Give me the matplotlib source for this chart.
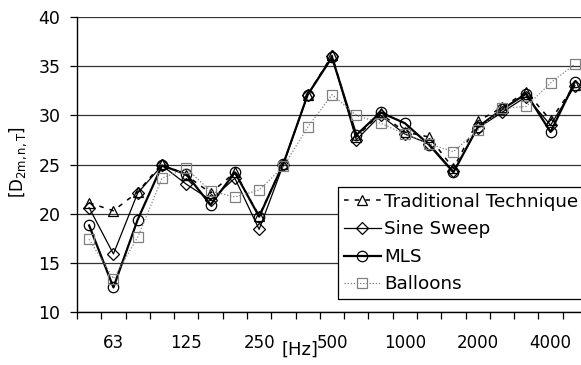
import matplotlib
matplotlib.use("Agg")
from matplotlib import pyplot as plt
import numpy as np

plt.rcParams['font.family'] = ['DejaVu Sans']
plt.rcParams['mathtext.fontset'] = 'dejavusans'

# third-octave bands, 50 Hz .. 5000 Hz
bands = [50, 63, 80, 100, 125, 160, 200, 250, 315, 400, 500, 630, 800,
         1000, 1250, 1600, 2000, 2500, 3150, 4000, 5000]
tick_labels = ['63', '125', '250', '500', '1000', '2000', '4000']

traditional = [21.1, 20.3, 22.2, 25.1, 23.9, 22.1, 24.2, 19.8, 25.1, 32.1, 36.1,
               27.8, 30.2, 28.3, 27.8, 24.6, 29.4, 30.8, 32.4, 29.5, 33.1]
sine_sweep = [20.6, 15.9, 22.1, 24.9, 23.0, 21.4, 23.6, 18.4, 25.0, 32.1, 36.0,
              27.5, 30.0, 28.1, 27.1, 24.3, 28.7, 30.3, 31.9, 29.0, 33.0]
mls = [18.8, 12.5, 19.4, 24.9, 24.0, 20.9, 24.2, 19.7, 25.1, 32.1, 35.9,
       28.0, 30.3, 29.2, 27.0, 24.2, 28.8, 30.6, 32.2, 28.3, 33.4]
balloons = [17.4, 13.4, 17.6, 23.6, 24.6, 22.3, 21.7, 22.4, 24.8, 28.8, 32.1,
            30.0, 29.2, 28.1, 27.1, 26.3, 28.5, 30.7, 30.9, 33.3, 35.2]

fig = plt.figure(figsize=(5.81, 3.65), dpi=100)
ax = fig.add_axes([77 / 581, 1 - 312 / 365, 510 / 581, 295 / 365])

x = np.arange(len(bands))
mk = dict(markersize=7.5, fillstyle='none', markeredgewidth=0.9)
ax.plot(x, traditional, color='black', lw=1.1, dashes=(3, 4), marker='^',
        label='Traditional Technique', **mk)
ax.plot(x, sine_sweep, color='black', lw=0.9, marker='D',
        label='Sine Sweep', **dict(mk, markersize=6.5))
ax.plot(x, mls, color='black', lw=1.6, marker='o', label='MLS', **mk)
ax.plot(x, balloons, color='#808080', lw=0.9, ls=(0, (1, 1.5)), marker='s',
        label='Balloons', **mk)

ax.set_xlim(-0.5, len(bands) - 0.5)
ax.set_ylim(10, 40)
ax.set_yticks(range(10, 41, 5))
ax.yaxis.grid(True, color='#333333', lw=0.9)
ax.set_axisbelow(True)

label_pos = [bands.index(int(t)) for t in tick_labels]
ax.set_xticks(label_pos)
ax.set_xticklabels(tick_labels)
ax.set_xticks(np.arange(-0.5, len(bands)), minor=True)
ax.tick_params(axis='x', which='major', length=0, pad=16, labelsize=12)
ax.tick_params(axis='x', which='minor', length=5, width=0.9)
ax.tick_params(axis='y', length=5, width=0.9, labelsize=12.5, pad=7)

for s in ['top', 'right']:
    ax.spines[s].set_visible(False)
ax.spines['left'].set_linewidth(1.0)
ax.spines['bottom'].set_linewidth(1.0)

fig.text(18 / 581, 1 - 162 / 365, r'[D$_{\mathrm{2m,n,T}}$]', rotation=90,
         ha='center', va='center', fontsize=12)
fig.text(300 / 581, 1 - 350 / 365, '[Hz]', ha='center', va='center',
         fontsize=13)

leg = ax.legend(loc='upper left', bbox_to_anchor=((338 - 77) / 510, (312 - 187) / 295),
                fontsize=13.2, frameon=True, fancybox=False, edgecolor='black',
                framealpha=1, handlelength=2.0, handletextpad=0.2,
                labelspacing=0.52, borderpad=0.32, borderaxespad=0)
leg.get_frame().set_linewidth(0.9)

fig.savefig('out.png', dpi=100)
